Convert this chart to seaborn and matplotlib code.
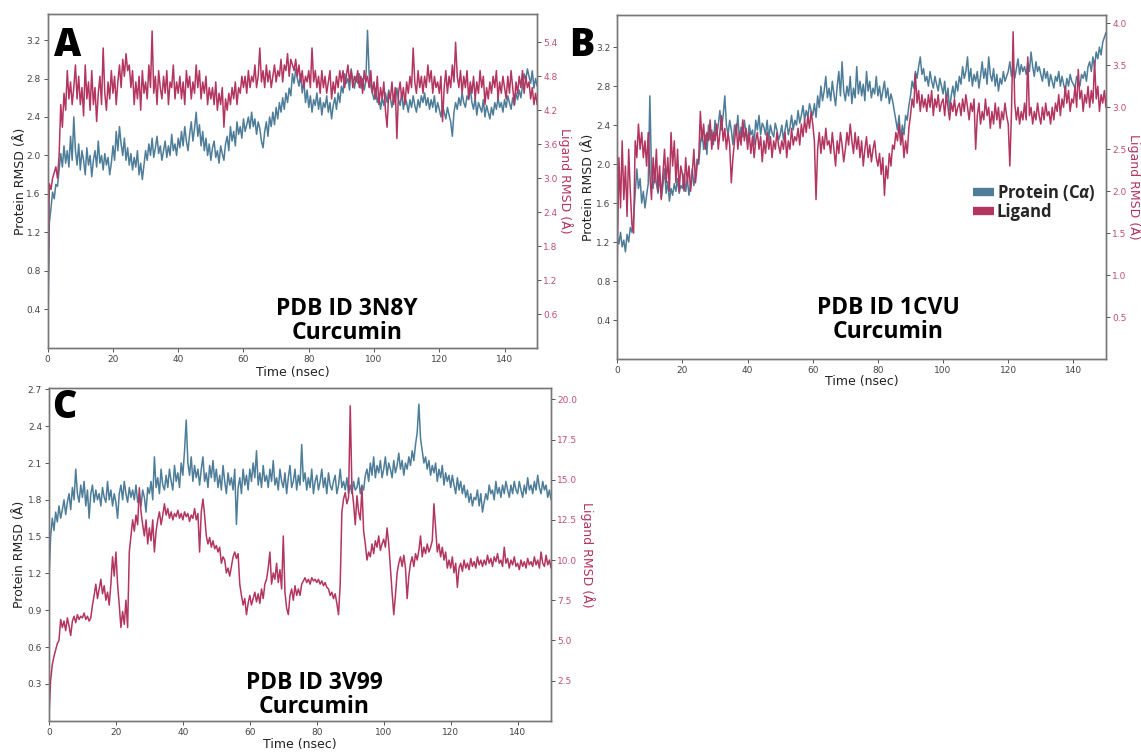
import numpy as np
import matplotlib
matplotlib.use("Agg")
import matplotlib.pyplot as plt
import seaborn as sns
from matplotlib.lines import Line2D

# ---------------- data (0.5 ns spacing) ----------------
a_protein = [
    0.05, 1.30, 1.45, 1.62, 1.55, 1.70, 1.68, 1.85, 2.02, 1.88,
    2.10, 1.92, 2.05, 1.88, 2.20, 1.95, 2.40, 2.05, 1.90, 2.12,
    1.85, 2.05, 1.95, 1.80, 2.08, 1.90, 2.00, 1.78, 1.95, 2.05,
    1.88, 2.15, 1.92, 2.00, 1.85, 2.02, 1.90, 1.98, 1.80, 1.92,
    2.10, 1.95, 2.25, 2.05, 2.30, 2.12, 2.00, 2.18, 1.95, 2.08,
    1.90, 2.02, 1.85, 1.98, 1.88, 2.05, 1.80, 1.92, 1.75, 1.90,
    2.05, 1.95, 2.12, 2.00, 2.18, 1.98, 2.08, 2.20, 2.02, 2.10,
    1.95, 2.05, 2.15, 1.98, 2.10, 2.00, 2.22, 2.05, 2.12, 2.00,
    2.18, 2.08, 2.25, 2.10, 2.30, 2.15, 2.05, 2.22, 2.35, 2.15,
    2.28, 2.45, 2.20, 2.32, 2.10, 2.25, 2.05, 2.18, 2.00, 2.12,
    1.95, 2.08, 2.15, 1.98, 2.05, 1.92, 2.10, 2.02, 1.95, 2.12,
    2.20, 2.05, 2.30, 2.15, 2.25, 2.10, 2.35, 2.22, 2.30, 2.18,
    2.38, 2.25, 2.32, 2.40, 2.28, 2.45, 2.30, 2.38, 2.22, 2.35,
    2.28, 2.15, 2.08, 2.25, 2.35, 2.20, 2.40, 2.30, 2.45, 2.32,
    2.50, 2.38, 2.55, 2.45, 2.60, 2.48, 2.65, 2.55, 2.70, 2.62,
    2.85, 2.75, 2.90, 2.80, 2.72, 2.85, 2.65, 2.78, 2.55, 2.68,
    2.50, 2.62, 2.45, 2.58, 2.52, 2.65, 2.48, 2.60, 2.42, 2.55,
    2.50, 2.62, 2.45, 2.55, 2.38, 2.52, 2.60, 2.48, 2.65, 2.55,
    2.72, 2.65, 2.85, 2.75, 2.80, 2.68, 2.90, 2.78, 2.70, 2.82,
    2.75, 2.85, 2.70, 2.80, 2.68, 2.78, 3.30, 2.85, 2.72, 2.65,
    2.58, 2.70, 2.55, 2.62, 2.48, 2.60, 2.52, 2.65, 2.55, 2.68,
    2.60, 2.50, 2.62, 2.55, 2.70, 2.58, 2.52, 2.65, 2.48, 2.60,
    2.55, 2.45, 2.58, 2.50, 2.62, 2.52, 2.45, 2.58, 2.50, 2.62,
    2.55, 2.65, 2.52, 2.60, 2.48, 2.58, 2.50, 2.62, 2.45, 2.55,
    2.48, 2.40, 2.52, 2.45, 2.38, 2.50, 2.42, 2.35, 2.20, 2.45,
    2.55, 2.48, 2.60, 2.52, 2.65, 2.55, 2.50, 2.62, 2.58, 2.70,
    2.55, 2.48, 2.60, 2.42, 2.55, 2.50, 2.45, 2.58, 2.40, 2.52,
    2.45, 2.38, 2.50, 2.42, 2.55, 2.48, 2.60, 2.50, 2.55, 2.45,
    2.58, 2.50, 2.62, 2.55, 2.48, 2.60, 2.52, 2.65, 2.58, 2.68,
    2.60, 2.72, 2.85, 2.78, 2.90, 2.82, 2.75, 2.88, 2.70, 2.80,
    2.72,
]
a_ligand = [
    0.3, 2.9, 2.8, 3.0, 3.1, 3.2, 3.0, 3.4, 4.3, 3.9,
    4.5, 4.2, 4.9, 4.4, 4.7, 4.3, 4.6, 5.0, 4.4, 4.8,
    4.3, 4.6, 4.1, 5.0, 4.4, 4.7, 4.2, 4.9, 4.3, 4.6,
    4.0, 4.5, 4.8, 4.3, 5.3, 4.5, 4.2, 4.7, 4.4, 4.9,
    4.5, 4.8, 4.3, 4.7, 5.0, 4.6, 5.1, 4.8, 5.2, 4.9,
    5.0, 4.6, 4.9, 4.3, 4.7, 4.4, 4.8, 4.2, 4.9, 4.5,
    4.7, 4.4, 5.0, 4.6, 5.6, 4.5, 4.8, 4.3, 4.9, 4.6,
    4.4, 4.8, 4.5, 4.9, 4.3, 4.7, 4.6, 5.0, 4.4, 4.7,
    4.5, 4.8, 4.4, 4.7, 4.3, 4.9, 4.6, 4.8, 4.4, 4.7,
    4.5, 5.0, 4.6, 4.9, 4.4, 4.7, 4.5, 4.8, 4.3, 4.6,
    4.4, 4.6, 4.3, 4.7, 4.2, 4.5, 4.3, 4.6, 3.9, 4.4,
    4.2, 4.5, 4.3, 4.6, 4.4, 4.7, 4.3, 4.6, 4.5, 4.8,
    4.6, 4.8, 4.5, 4.9, 4.6, 4.8, 4.7, 5.0, 4.6, 4.8,
    5.3, 4.7, 4.9, 4.6, 5.0, 4.7, 4.9, 4.6, 4.8, 5.0,
    4.7, 4.9, 4.8, 5.1, 4.7, 5.0, 4.9, 5.2, 4.8, 5.1,
    5.0, 4.9, 5.1, 4.8, 5.0, 4.7, 4.9, 4.6, 4.8, 4.7,
    4.9, 4.6, 5.3, 4.7, 4.9, 4.6, 4.8, 4.5, 4.9, 4.6,
    4.8, 4.5, 4.7, 4.9, 4.4, 4.7, 4.5, 4.8, 4.6, 4.9,
    4.7, 4.9, 4.6, 4.8, 5.0, 4.7, 4.9, 4.6, 4.8, 4.7,
    4.9, 4.6, 4.8, 4.5, 4.9, 4.7, 4.8, 4.6, 4.9, 4.5,
    4.7, 4.4, 4.8, 4.3, 4.6, 4.4, 4.7, 4.2, 3.9, 4.5,
    4.4, 4.7, 4.3, 4.6, 3.7, 4.5, 4.7, 4.4, 4.6, 4.3,
    4.7, 4.5, 4.8, 4.6, 5.3, 4.7, 4.5, 4.9, 4.6, 4.8,
    4.5, 4.8, 4.6, 5.0, 4.7, 4.9, 4.5, 4.8, 4.6, 4.7,
    4.5, 4.8, 4.0, 4.6, 4.9, 4.5, 4.8, 4.6, 5.0, 4.7,
    5.4, 4.8, 4.6, 4.9, 4.5, 4.8, 4.6, 4.9, 4.4, 4.7,
    4.5, 4.8, 4.4, 4.7, 4.5, 4.9, 4.6, 4.8, 4.3, 4.6,
    4.4, 4.7, 4.5, 4.8, 4.6, 4.9, 4.4, 4.7, 4.5, 4.8,
    4.6, 4.4, 4.8, 4.5, 4.9, 4.6, 4.3, 4.7, 4.5, 4.8,
    4.6, 4.9, 4.5, 4.8, 4.6, 4.7, 4.4, 4.6, 4.3, 4.5,
    4.3,
]
b_protein = [
    1.25, 1.18, 1.30, 1.15, 1.22, 1.10, 1.28, 1.20, 1.35, 1.30,
    1.45, 1.70, 1.95, 1.75, 1.85, 1.60, 1.72, 1.55, 1.68, 1.80,
    2.70, 1.90, 1.75, 1.95, 1.80, 1.70, 1.88, 1.65, 1.78, 1.95,
    1.70, 1.82, 1.62, 1.75, 1.68, 1.80, 1.72, 1.85, 1.70, 1.78,
    1.75, 1.90, 1.72, 1.85, 1.68, 1.80, 1.95, 1.78, 1.90, 2.05,
    2.00, 2.20, 2.35, 2.15, 2.30, 2.10, 2.40, 2.25, 2.35, 2.20,
    2.45, 2.30, 2.40, 2.55, 2.35, 2.50, 2.70, 2.40, 2.30, 2.45,
    2.35, 2.20, 2.40, 2.30, 2.50, 2.25, 2.38, 2.28, 2.45, 2.32,
    2.25, 2.40, 2.30, 2.35, 2.20, 2.45, 2.35, 2.50, 2.30, 2.42,
    2.38, 2.30, 2.45, 2.25, 2.40, 2.32, 2.28, 2.42, 2.35, 2.25,
    2.30, 2.40, 2.25, 2.35, 2.45, 2.30, 2.38, 2.50, 2.35, 2.45,
    2.40, 2.55, 2.42, 2.50, 2.60, 2.45, 2.55, 2.48, 2.62, 2.55,
    2.50, 2.62, 2.48, 2.70, 2.58, 2.80, 2.65, 2.75, 2.90, 2.68,
    2.78, 2.65, 2.85, 2.72, 2.60, 2.80, 2.95, 2.70, 3.05, 2.75,
    2.65, 2.80, 2.70, 2.90, 2.62, 2.78, 2.68, 3.00, 2.72, 2.85,
    2.70, 2.82, 2.65, 2.95, 2.75, 2.85, 2.68, 2.78, 2.72, 2.90,
    2.70, 2.80, 2.65, 2.75, 2.85, 2.68, 2.78, 2.62, 2.72, 2.65,
    2.55, 2.45, 2.35, 2.50, 2.25, 2.40, 2.30, 2.50, 2.45, 2.60,
    2.70, 2.85, 2.78, 2.95, 2.88, 3.00, 3.10, 2.92, 2.98, 2.85,
    2.90, 2.80, 2.95, 2.85, 2.78, 2.90, 2.82, 2.75, 2.88, 2.80,
    2.72, 2.85, 2.65, 2.78, 2.55, 2.70, 2.80, 2.68, 2.85, 2.75,
    2.90, 2.82, 3.00, 2.88, 2.95, 3.10, 2.85, 2.98, 2.80, 2.92,
    2.85, 2.95, 2.78, 2.90, 3.05, 2.88, 2.98, 2.82, 3.10, 2.92,
    2.85, 2.98, 2.80, 2.92, 2.75, 2.88, 2.82, 2.95, 2.85, 2.90,
    2.95, 3.05, 2.90, 3.00, 2.88, 2.98, 3.08, 2.92, 3.02, 2.95,
    3.00, 2.92, 3.05, 2.95, 3.15, 3.00, 2.90, 3.05, 2.95, 3.00,
    2.92, 2.85, 2.98, 2.88, 2.95, 2.80, 2.92, 2.85, 2.78, 2.90,
    2.85, 2.95, 2.80, 2.90, 2.82, 2.75, 2.88, 2.80, 2.92, 2.85,
    2.82, 2.78, 2.90, 2.85, 2.80, 2.92, 2.88, 2.95, 2.85, 3.00,
    3.05, 2.95, 3.10, 3.00, 3.15, 3.08, 3.20, 3.12, 3.25, 3.30,
    3.35,
]
b_ligand = [
    1.2, 2.4, 1.8, 2.6, 1.9, 2.3, 1.7, 2.5, 2.0, 1.6,
    1.5, 2.6, 2.4, 2.8, 2.5, 2.7, 2.4, 2.6, 2.3, 2.7,
    2.2, 1.9, 2.4, 2.1, 2.5, 2.0, 2.3, 1.9, 2.2, 2.5,
    2.1, 2.4, 2.0, 2.7, 2.3, 2.6, 2.1, 2.5, 2.0, 2.3,
    2.2, 2.0, 2.4, 2.1, 2.3, 2.0, 2.2, 2.5, 2.1, 2.3,
    2.4, 2.95, 2.6, 2.8, 2.5, 2.7, 2.6, 2.85, 2.5, 2.7,
    2.6, 2.8, 2.5, 2.7, 2.9, 2.6, 2.75, 2.5, 2.7, 2.55,
    2.1, 2.4, 2.6, 2.8, 2.5, 2.7, 2.55, 2.85, 2.6, 2.75,
    2.5, 2.7, 2.45, 2.65, 2.4, 2.6, 2.7, 2.5, 2.65, 2.35,
    2.6, 2.45, 2.7, 2.5, 2.65, 2.4, 2.6, 2.5, 2.7, 2.55,
    2.45, 2.6, 2.5, 2.7, 2.4, 2.6, 2.5, 2.75, 2.55, 2.65,
    2.6, 2.75, 2.55, 2.8, 2.65, 2.85, 2.7, 2.9, 2.75, 2.95,
    2.8, 2.6, 1.9, 2.5, 2.7, 2.45, 2.65, 2.5, 2.75, 2.55,
    2.6, 2.45, 2.7, 2.5, 2.3, 2.6, 2.45, 2.7, 2.55, 2.35,
    2.5, 2.7, 2.55, 2.8, 2.6, 2.45, 2.7, 2.5, 2.65, 2.4,
    2.6, 2.3, 2.5, 2.65, 2.4, 2.55, 2.35, 2.5, 2.6, 2.4,
    2.3, 2.45, 2.2, 2.4, 1.95, 2.3, 2.15, 2.45, 2.3, 2.55,
    2.5, 2.7, 2.6, 2.8, 2.55, 2.7, 2.4, 2.6, 2.45, 2.75,
    2.9, 3.1, 3.0, 3.4, 3.05, 3.2, 2.95, 3.15, 3.0, 3.1,
    2.95, 3.15, 3.0, 3.2, 2.9, 3.1, 3.0, 3.15, 2.95, 3.05,
    3.1, 2.9, 3.15, 3.0, 2.85, 3.05, 2.95, 3.1, 2.9, 3.0,
    3.05, 2.9, 3.1, 2.95, 3.15, 3.0, 2.85, 3.05, 2.95, 3.1,
    2.5, 2.9, 3.05, 2.8, 2.95, 2.85, 3.1, 2.9, 3.0, 2.75,
    2.95, 2.8, 3.05, 2.85, 3.0, 2.75, 2.95, 2.85, 3.05, 2.9,
    2.8, 2.3, 2.95, 3.9, 3.05, 2.85, 3.0, 2.8, 2.95, 2.85,
    3.05, 2.85, 3.6, 2.9, 3.0, 2.8, 2.95, 2.85, 3.05, 2.9,
    2.8, 3.0, 2.85, 3.05, 2.9, 2.95, 2.8, 3.0, 2.85, 3.05,
    2.95, 3.15, 2.9, 3.1, 3.0, 3.25, 3.05, 3.2, 2.95, 3.1,
    3.05, 3.25, 3.0, 3.45, 3.1, 3.2, 2.95, 3.15, 3.05, 3.25,
    3.0, 3.2, 3.05, 3.55, 3.1, 3.25, 2.95, 3.15, 3.05, 3.2,
    3.0,
]
c_protein = [
    1.15, 1.50, 1.65, 1.55, 1.70, 1.62, 1.75, 1.65, 1.72, 1.80,
    1.68, 1.78, 1.85, 1.72, 1.90, 1.80, 2.05, 1.85, 1.78, 1.92,
    1.82, 1.95, 1.75, 1.88, 1.65, 1.85, 1.92, 1.78, 1.88, 1.80,
    1.85, 1.75, 1.90, 1.82, 1.78, 1.95, 1.80, 1.88, 1.75, 1.85,
    1.78, 1.65, 1.85, 1.92, 1.80, 1.95, 1.85, 1.78, 1.90, 1.82,
    1.88, 1.80, 1.92, 1.78, 1.85, 1.75, 1.88, 1.82, 1.70, 1.90,
    1.85, 1.95, 1.80, 2.15, 1.90, 1.98, 1.85, 2.05, 1.92, 1.88,
    2.00, 1.90, 2.05, 1.95, 1.88, 2.08, 1.95, 2.02, 1.90, 2.10,
    2.00, 2.20, 2.45, 2.10, 2.00, 2.15, 1.95, 2.08, 1.98, 2.05,
    1.92, 2.05, 2.15, 1.95, 2.02, 1.90, 2.08, 1.98, 2.12, 1.95,
    2.05, 1.90, 2.00, 1.88, 2.08, 1.95, 1.85, 2.02, 1.92, 1.98,
    1.88, 2.05, 1.60, 1.90, 1.98, 1.85, 2.05, 1.92, 2.00, 1.88,
    2.05, 1.95, 2.10, 1.98, 2.20, 1.92, 2.02, 1.90, 2.08, 1.95,
    2.00, 1.90, 2.05, 1.95, 2.12, 1.92, 1.98, 1.88, 2.05, 1.95,
    1.90, 2.02, 1.85, 1.98, 2.08, 1.90, 1.95, 2.05, 1.88, 2.00,
    1.92, 2.25, 1.95, 2.02, 1.88, 1.98, 1.90, 2.05, 1.85, 1.95,
    2.00, 1.88, 1.95, 2.05, 1.90, 1.98, 1.85, 2.02, 1.92, 1.88,
    1.95, 2.00, 1.85, 1.92, 2.05, 1.90, 1.95, 1.88, 1.98, 1.85,
    1.92, 1.85, 1.95, 1.88, 1.90, 1.98, 1.85, 1.92, 1.88, 2.00,
    2.05, 1.95, 2.10, 2.00, 2.15, 1.98, 2.08, 2.02, 2.12, 1.98,
    2.05, 2.15, 2.00, 2.10, 2.05, 1.98, 2.12, 2.02, 2.08, 2.18,
    2.05, 2.12, 2.00, 2.10, 2.05, 2.15, 2.08, 2.20, 2.12, 2.25,
    2.35, 2.58, 2.30, 2.20, 2.10, 2.15, 2.05, 2.12, 2.00, 2.08,
    2.02, 2.10, 1.95, 2.05, 1.98, 2.08, 1.92, 2.02, 1.95, 2.00,
    1.90, 2.00, 1.92, 1.85, 1.98, 1.88, 1.95, 1.85, 1.92, 1.82,
    1.88, 1.78, 1.85, 1.75, 1.82, 1.80, 1.88, 1.75, 1.85, 1.70,
    1.78, 1.85, 1.80, 1.92, 1.85, 1.88, 1.80, 1.95, 1.85, 1.90,
    1.82, 1.92, 1.85, 1.95, 1.88, 1.82, 1.92, 1.85, 1.95, 1.88,
    1.85, 1.95, 1.88, 1.82, 1.92, 1.85, 1.98, 1.88, 1.92, 1.85,
    1.95, 1.88, 2.00, 1.90, 1.85, 1.95, 1.88, 1.92, 1.82, 1.88,
    1.80,
]
c_ligand = [
    0.3, 2.5, 3.5, 4.0, 4.4, 4.8, 5.0, 6.3, 5.8, 6.2,
    5.6, 6.4, 5.9, 5.3, 6.2, 6.5, 6.1, 6.6, 6.3, 6.5,
    6.4, 6.7, 6.3, 6.5, 6.2, 6.4, 7.2, 7.8, 8.5, 7.6,
    8.2, 8.8, 7.9, 8.4, 7.5, 8.0, 7.2, 8.5, 10.2, 9.0,
    10.5, 8.5, 7.2, 5.8, 6.8, 6.0, 7.5, 5.8, 10.5, 11.5,
    12.5, 11.8, 12.8, 12.2, 14.5, 13.0, 12.2, 11.5, 12.5, 11.0,
    12.0, 11.2, 12.5, 10.5, 11.8, 12.5, 13.0, 12.2, 12.8, 13.5,
    12.8, 13.2, 12.6, 13.0, 12.5, 12.9, 12.7, 13.1, 12.6, 12.9,
    12.5, 13.0, 12.7, 12.9, 12.4, 12.8, 12.6, 13.2, 12.5, 12.9,
    10.5, 13.0, 13.8, 12.8, 11.5, 11.0, 11.4, 10.8, 11.2, 10.7,
    10.9, 10.5, 10.8, 9.8, 10.2, 10.0, 9.2, 9.5, 9.0, 9.6,
    10.2, 10.5, 10.1, 10.4, 8.5, 7.8, 7.2, 7.6, 6.6, 7.3,
    7.8, 7.2, 7.6, 8.0, 7.4, 7.9, 7.3, 8.2, 7.6, 8.5,
    8.8, 9.5, 10.5, 8.5, 9.2, 8.8, 9.8, 8.6, 9.4, 8.2,
    11.5, 8.0, 7.0, 6.6, 7.8, 8.2, 7.5, 8.4, 7.8, 8.2,
    7.8, 8.5, 8.7, 8.9, 8.6, 8.8, 8.5, 8.9, 8.7, 8.8,
    8.6, 8.8, 8.5, 8.7, 8.4, 8.6, 8.3, 8.2, 7.8, 8.0,
    7.6, 7.9, 7.3, 6.6, 8.5, 13.0, 13.8, 14.2, 13.5, 13.9,
    19.6, 14.5, 13.5, 12.2, 14.0, 13.0, 12.5, 14.5, 11.8, 11.0,
    10.0, 10.5, 10.2, 11.0, 10.4, 11.2, 10.8, 11.5, 10.6, 11.0,
    11.3, 10.8, 12.0, 11.0, 9.5, 8.0, 6.6, 7.8, 9.2, 9.8,
    10.2, 9.6, 10.3, 9.5, 7.6, 9.0, 9.8, 10.2, 9.6, 10.4,
    10.0, 10.6, 11.5, 10.2, 10.8, 10.4, 11.0, 10.5, 10.8, 11.2,
    13.5, 12.0, 10.5, 11.0, 10.2, 10.8, 10.0, 10.5, 9.5, 10.0,
    9.5, 10.2, 9.2, 9.8, 8.3, 9.5, 9.8, 9.3, 10.0, 9.5,
    9.8, 9.4, 10.1, 9.6, 9.9, 9.5, 10.2, 9.7, 10.0, 9.6,
    10.0, 9.7, 10.3, 9.8, 10.1, 9.6, 10.2, 9.9, 10.4, 9.8,
    10.0, 9.6, 10.8, 9.8, 10.1, 9.5, 10.0, 9.7, 10.2, 9.6,
    9.8, 9.4, 10.0, 9.6, 9.9, 9.5, 10.1, 9.7, 9.9, 9.6,
    10.2, 9.7, 10.0, 9.5, 10.5, 9.8, 9.6, 10.3, 9.7, 10.0,
    9.5,
]

panel_letters = ["A", "B", "C"]
panel_titles = ["PDB ID 3N8Y\nCurcumin", "PDB ID 1CVU\nCurcumin", "PDB ID 3V99\nCurcumin"]
x_ticks = [0, 20, 40, 60, 80, 100, 120, 140]
left_ticks = [[0.4, 0.8, 1.2, 1.6, 2.0, 2.4, 2.8, 3.2],
              [0.4, 0.8, 1.2, 1.6, 2.0, 2.4, 2.8, 3.2],
              [0.3, 0.6, 0.9, 1.2, 1.5, 1.8, 2.1, 2.4, 2.7]]
right_ticks = [[0.6, 1.2, 1.8, 2.4, 3.0, 3.6, 4.2, 4.8, 5.4],
               [0.5, 1.0, 1.5, 2.0, 2.5, 3.0, 3.5, 4.0],
               [2.5, 5.0, 7.5, 10.0, 12.5, 15.0, 17.5, 20.0]]
left_lims = [(0, 3.47), (0, 3.53), (0, 2.71)]
right_lims = [(0, 5.9), (0, 4.1), (0, 20.7)]
legend_labels = ["Protein (C$\\mathit{\\alpha}$)", "Ligand"]

# ---------------- style ----------------
sns.set_theme(style="white")
plt.rcParams["font.family"] = ["DejaVu Sans"]
plt.rcParams["mathtext.fontset"] = "custom"
plt.rcParams["mathtext.it"] = "Open Sans:italic:bold"
plt.rcParams["mathtext.rm"] = "Open Sans:bold"

PROT = "#4e7d99"
LIG = "#b2365f"
LIG_TXT = "#bf4f77"
SPINE = "#777777"

fig = plt.figure(figsize=(11.41, 7.54), dpi=100)
positions = [
    [0.0418, 0.5385, 0.4290, 0.4429],
    [0.5410, 0.5239, 0.4283, 0.4562],
    [0.0429, 0.0442, 0.4401, 0.4410],
]
series = [(a_protein, a_ligand), (b_protein, b_ligand), (c_protein, c_ligand)]
ylab_left_x = [-0.056, -0.058, -0.059]
ylab_right_x = [1.058, 1.058, 1.072]
xlab_y = [-0.072, -0.066, -0.073]
title_pos = [(0.611, 0.082), (0.555, 0.112), (0.529, 0.076)]
letter_pos = [(68, 45), (582, 46), (64, 408)]

for i in range(3):
    ax = fig.add_axes(positions[i])
    prot, lig = series[i]
    tp = np.linspace(0, 150, len(prot))
    tl = np.linspace(0, 150, len(lig))
    sns.lineplot(x=tp, y=prot, ax=ax, color=PROT, linewidth=1.1, estimator=None)
    ax.set_xlim(0, 150)
    ax.set_ylim(*left_lims[i])
    ax.set_xticks(x_ticks)
    ax.set_yticks(left_ticks[i])
    ax.set_xticklabels([str(v) for v in x_ticks])
    ax.set_yticklabels([f"{v:.1f}" for v in left_ticks[i]])

    ax2 = ax.twinx()
    sns.lineplot(x=tl, y=lig, ax=ax2, color=LIG, linewidth=1.1, estimator=None)
    ax2.set_ylim(*right_lims[i])
    ax2.set_yticks(right_ticks[i])
    ax2.set_yticklabels([f"{v:.1f}" for v in right_ticks[i]])
    ax2.set_xlim(0, 150)

    for a in (ax, ax2):
        for s in a.spines.values():
            s.set_color(SPINE)
            s.set_linewidth(1.0)
    ax.tick_params(axis="both", which="major", length=3, width=0.7, color="#555555",
                   labelsize=6.5, labelcolor="#444444", pad=2,
                   left=True, bottom=True)
    ax2.tick_params(axis="y", which="major", length=3, width=0.7, color="#555555",
                    labelsize=6.5, labelcolor=LIG_TXT, pad=1.5, right=True)

    ax.set_xlabel("Time (nsec)", fontsize=9, color="#222222", va="center")
    ax.xaxis.set_label_coords(0.5, xlab_y[i])
    ax.set_ylabel("Protein RMSD (Å)", fontsize=9, color="#222222", va="center")
    ax.yaxis.set_label_coords(ylab_left_x[i], 0.5)
    ax2.set_ylabel("Ligand RMSD (Å)", fontsize=9, color=LIG, rotation=270, va="center")
    ax2.yaxis.set_label_coords(ylab_right_x[i], 0.5)

    ax.text(title_pos[i][0], title_pos[i][1], panel_titles[i], transform=ax.transAxes,
            ha="center", va="center", fontsize=16.5, fontweight="bold",
            family=["Open Sans", "DejaVu Sans"], color="black", linespacing=1.0)

    fig.text(letter_pos[i][0] / 1141, 1 - letter_pos[i][1] / 754, panel_letters[i],
             ha="center", va="center", fontsize=27, fontweight="heavy",
             family=["Open Sans", "DejaVu Sans"], color="black")

    if i == 1:
        handles = [Line2D([0], [0], color=PROT, linewidth=6, solid_capstyle="butt"),
                   Line2D([0], [0], color=LIG, linewidth=6, solid_capstyle="butt")]
        leg = ax2.legend(handles, legend_labels, loc="upper left",
                         bbox_to_anchor=(0.727, 0.515), frameon=False,
                         borderpad=0, borderaxespad=0, handlelength=1.3,
                         handletextpad=0.15, labelspacing=0.0,
                         prop={"family": "Open Sans", "weight": "bold", "size": 12})

fig.savefig("out.png", dpi=100)
